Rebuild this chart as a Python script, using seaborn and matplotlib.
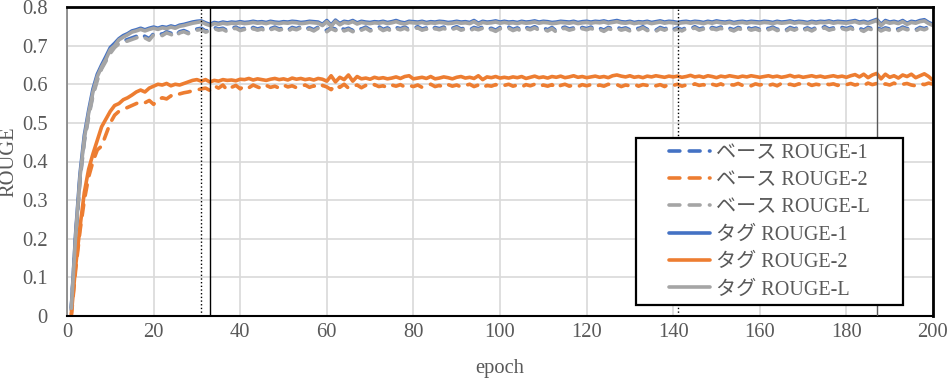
import numpy as np
import pandas as pd
import matplotlib
matplotlib.use("Agg")
import matplotlib.pyplot as plt
from matplotlib.patches import Rectangle
import seaborn as sns

# ROUGE scores per epoch (x1000), epochs 1..200
epochs = np.arange(1, 201)

base_1 = [
    17, 205, 356, 456, 520, 575, 615, 644, 664, 684, 699, 709, 712, 716, 720, 724, 730, 724, 718, 731,
    734, 729, 736, 732, 725, 736, 739, 734, 741, 743, 745, 738, 741, 747, 743, 745, 739, 745, 748, 742,
    745, 740, 747, 743, 746, 739, 744, 748, 743, 746, 740, 747, 744, 749, 743, 746, 741, 748, 744, 739,
    747, 742, 750, 741, 745, 739, 747, 743, 748, 741, 745, 749, 742, 746, 740, 747, 744, 748, 742, 745,
    749, 743, 746, 740, 747, 744, 748, 741, 745, 749, 743, 746, 741, 747, 744, 748, 742, 745, 740, 747,
    744, 748, 742, 746, 740, 747, 744, 749, 743, 746, 741, 747, 738, 745, 748, 743, 746, 741, 747, 744,
    748, 742, 745, 740, 747, 744, 748, 743, 746, 741, 747, 744, 749, 742, 745, 740, 747, 743, 748, 742,
    746, 741, 747, 744, 749, 743, 746, 740, 747, 744, 748, 742, 745, 741, 747, 744, 748, 743, 746, 742,
    747, 744, 748, 742, 745, 740, 747, 743, 748, 742, 746, 741, 747, 744, 749, 743, 746, 742, 747, 744,
    748, 742, 745, 740, 747, 744, 749, 741, 746, 743, 747, 742, 748, 744, 746, 741, 747, 744, 749, 745,
]
base_2 = [
    0, 120, 220, 300, 360, 400, 430, 440, 470, 500, 520, 530, 535, 540, 545, 550, 555, 552, 558, 548,
    560, 565, 562, 570, 568, 575, 578, 580, 583, 585, 588, 590, 584, 596, 590, 598, 585, 592, 597, 588,
    596, 591, 598, 593, 589, 597, 592, 595, 590, 598, 593, 596, 591, 594, 598, 592, 596, 590, 597, 593,
    586, 598, 592, 600, 590, 595, 598, 591, 597, 593, 599, 594, 596, 591, 598, 595, 599, 593, 597, 594,
    598, 592, 596, 600, 594, 597, 592, 599, 595, 598, 593, 597, 600, 594, 598, 591, 597, 595, 599, 594,
    597, 600, 595, 598, 593, 599, 596, 600, 594, 598, 595, 599, 590, 597, 600, 595, 598, 594, 599, 596,
    599, 594, 598, 595, 600, 597, 599, 594, 598, 596, 600, 595, 599, 597, 601, 596, 599, 594, 600, 597,
    600, 595, 598, 596, 601, 597, 599, 594, 600, 597, 601, 596, 599, 598, 602, 597, 600, 596, 601, 598,
    601, 597, 600, 596, 602, 598, 600, 597, 601, 599, 602, 597, 600, 598, 602, 599, 601, 597, 602, 599,
    602, 598, 601, 597, 603, 599, 602, 596, 601, 598, 603, 597, 600, 602, 598, 596, 602, 599, 603, 600,
]
base_L = [
    15, 200, 350, 450, 515, 570, 610, 640, 660, 680, 695, 705, 708, 712, 716, 720, 726, 720, 714, 728,
    731, 726, 733, 729, 722, 733, 736, 731, 738, 740, 742, 735, 738, 744, 740, 742, 736, 742, 745, 739,
    742, 737, 744, 740, 743, 736, 741, 745, 740, 743, 737, 744, 741, 746, 740, 743, 738, 745, 741, 736,
    744, 739, 747, 738, 742, 736, 744, 740, 745, 738, 742, 746, 739, 743, 737, 744, 741, 745, 739, 742,
    746, 740, 743, 737, 744, 741, 745, 738, 742, 746, 740, 743, 738, 744, 741, 745, 739, 742, 737, 744,
    741, 745, 739, 743, 737, 744, 741, 746, 740, 743, 738, 744, 735, 742, 745, 740, 743, 738, 744, 741,
    745, 739, 742, 737, 744, 741, 745, 740, 743, 738, 744, 741, 746, 739, 742, 737, 744, 740, 745, 739,
    743, 738, 744, 741, 746, 740, 743, 737, 744, 741, 745, 739, 742, 738, 744, 741, 745, 740, 743, 739,
    744, 741, 745, 739, 742, 737, 744, 740, 745, 739, 743, 738, 744, 741, 746, 740, 743, 739, 744, 741,
    745, 739, 742, 737, 744, 741, 746, 738, 743, 740, 744, 739, 745, 741, 743, 738, 744, 741, 746, 742,
]
tag_1 = [
    22, 215, 368, 468, 532, 588, 626, 650, 672, 695, 706, 718, 726, 731, 738, 741, 745, 741, 745, 748,
    745, 749, 747, 751, 748, 753, 755, 758, 761, 763, 764, 759, 755, 760, 758, 761, 759, 761, 760, 762,
    760, 761, 763, 761, 762, 760, 763, 761, 760, 762, 761, 763, 762, 760, 761, 763, 762, 761, 755, 765,
    753, 766, 757, 763, 761, 765, 759, 763, 761, 760, 762, 761, 763, 760, 762, 765, 761, 759, 763, 762,
    761, 763, 760, 762, 761, 763, 762, 760, 761, 763, 761, 762, 760, 765, 758, 763, 761, 762, 764, 761,
    763, 761, 762, 760, 763, 761, 762, 764, 761, 763, 762, 760, 761, 763, 762, 761, 763, 760, 762, 763,
    761, 763, 762, 764, 761, 763, 765, 762, 761, 763, 760, 762, 761, 763, 760, 762, 764, 761, 763, 762,
    760, 762, 763, 761, 763, 762, 760, 763, 761, 764, 762, 761, 763, 760, 762, 763, 761, 763, 762, 761,
    763, 762, 760, 763, 761, 762, 764, 761, 763, 762, 760, 763, 761, 763, 762, 764, 761, 763, 762, 761,
    763, 765, 761, 763, 760, 764, 768, 755, 765, 761, 763, 760, 765, 758, 763, 761, 765, 767, 760, 755,
]
tag_2 = [
    5, 130, 230, 320, 380, 420, 455, 490, 510, 530, 545, 550, 560, 565, 572, 580, 585, 580, 590, 595,
    600, 598, 602, 596, 600, 598, 602, 606, 610, 612, 608, 612, 606, 610, 608, 612, 610, 611, 609, 613,
    612, 615, 611, 614, 612, 610, 613, 615, 612, 614, 611, 616, 613, 615, 612, 614, 611, 615, 613, 608,
    622, 606, 618, 612, 624, 608, 620, 614, 616, 613, 618, 615, 617, 614, 616, 619, 615, 620, 622, 614,
    616, 618, 615, 620, 614, 616, 619, 617, 614, 618, 620, 616, 618, 615, 622, 612, 619, 617, 620, 616,
    618, 616, 619, 617, 620, 615, 618, 621, 617, 619, 616, 620, 618, 621, 617, 619, 622, 618, 620, 617,
    619, 621, 618, 620, 617, 622, 624, 621, 619, 622, 618, 620, 617, 621, 619, 622, 620, 618, 621, 619,
    621, 618, 620, 623, 619, 621, 618, 622, 620, 617, 621, 619, 622, 620, 618, 621, 619, 622, 620, 618,
    620, 622, 619, 621, 618, 620, 623, 619, 621, 618, 620, 622, 619, 621, 618, 620, 622, 619, 621, 618,
    622, 625, 619, 626, 617, 624, 628, 614, 626, 618, 622, 616, 624, 620, 626, 617, 622, 627, 620, 610,
]
tag_L = [
    20, 210, 360, 460, 525, 580, 620, 645, 665, 690, 700, 715, 722, 728, 735, 738, 742, 738, 742, 745,
    742, 746, 744, 748, 745, 750, 752, 755, 758, 760, 762, 756, 752, 757, 755, 758, 756, 758, 757, 759,
    757, 758, 760, 758, 759, 757, 760, 758, 757, 759, 758, 760, 759, 757, 758, 760, 759, 758, 752, 762,
    750, 763, 754, 760, 758, 762, 756, 760, 758, 757, 759, 758, 760, 757, 759, 762, 758, 756, 760, 759,
    758, 760, 757, 759, 758, 760, 759, 757, 758, 760, 758, 759, 757, 762, 755, 760, 758, 759, 761, 758,
    760, 758, 759, 757, 760, 758, 759, 761, 758, 760, 759, 757, 758, 760, 759, 758, 760, 757, 759, 760,
    758, 760, 759, 761, 758, 760, 762, 759, 758, 760, 757, 759, 758, 760, 757, 759, 761, 758, 760, 759,
    757, 759, 760, 758, 760, 759, 757, 760, 758, 761, 759, 758, 760, 757, 759, 760, 758, 760, 759, 758,
    760, 759, 757, 760, 758, 759, 761, 758, 760, 759, 757, 760, 758, 760, 759, 761, 758, 760, 759, 758,
    760, 762, 758, 760, 757, 761, 765, 752, 762, 758, 760, 757, 762, 755, 760, 758, 762, 764, 757, 752,
]

series_names = ["ベース ROUGE-1", "ベース ROUGE-2", "ベース ROUGE-L",
                "タグ ROUGE-1", "タグ ROUGE-2", "タグ ROUGE-L"]
series_values = [base_1, base_2, base_L, tag_1, tag_2, tag_L]
series_colors = ["#4472C4", "#ED7D31", "#A5A5A5", "#4472C4", "#ED7D31", "#A5A5A5"]
series_dashed = [True, True, True, False, False, False]

# reference epoch markers: (epoch, style, color)
markers = [(31, ":", "black"), (33, "-", "black"), (141, ":", "black"), (187, "-", "#595959")]

x_ticks = list(range(0, 201, 20))
y_ticks = [0, 0.1, 0.2, 0.3, 0.4, 0.5, 0.6, 0.7, 0.8]
y_tick_labels = ["0", "0.1", "0.2", "0.3", "0.4", "0.5", "0.6", "0.7", "0.8"]

sns.set_style("white")
plt.rcParams["font.family"] = ["Liberation Serif", "Noto Sans CJK JP"]
text_color = "#595959"
fs = 14.8

fig = plt.figure(figsize=(9.51, 3.81), dpi=100)
ax = fig.add_axes([67 / 951, 1 - 316 / 381, 866 / 951, 309 / 381])

for name, vals, color, dashed in zip(series_names, series_values, series_colors, series_dashed):
    df = pd.DataFrame({"epoch": epochs, "rouge": np.array(vals) / 1000})
    sns.lineplot(data=df, x="epoch", y="rouge", ax=ax, color=color, linewidth=2.6,
                 label=name, linestyle=(0, (3.0, 2.6)) if dashed else "-",
                 dash_capstyle="round", solid_capstyle="round", legend=False)

for ep, ls, col in markers:
    ax.axvline(ep, color=col, linestyle=ls, linewidth=1.0, zorder=3)

ax.set_xlim(0, 200)
ax.set_ylim(0, 0.8)
ax.set_xticks(x_ticks)
ax.set_yticks(y_ticks)
ax.set_yticklabels(y_tick_labels)
ax.grid(True, color="#D9D9D9", linewidth=1.2)
ax.set_axisbelow(True)
ax.tick_params(axis="both", length=0, labelsize=fs, colors=text_color)
ax.tick_params(axis="y", pad=14)
ax.tick_params(axis="x", pad=5)
ax.set_xlabel("epoch", fontsize=fs, color=text_color, labelpad=12)
ax.set_ylabel("ROUGE", fontsize=fs, color=text_color)
ax.yaxis.set_label_coords(-49 / 866, 0.5)

for side in ["top", "right", "bottom"]:
    ax.spines[side].set_color("black")
    ax.spines[side].set_linewidth(2 if side != "bottom" else 1.5)
ax.spines["left"].set_color("#808080")
ax.spines["left"].set_linewidth(1.2)

# legend box
box = (0.657, 0.0356, 0.308, 0.540)
ax.add_patch(Rectangle(box[:2], box[2], box[3], transform=ax.transAxes,
                       facecolor="white", edgecolor="black", linewidth=1.6, zorder=10))
handles, labels = ax.get_legend_handles_labels()
leg = ax.legend(handles, labels, loc="center", bbox_to_anchor=box, frameon=False,
                fontsize=14.5, handlelength=2.0, handletextpad=0.3, labelspacing=0.41,
                borderpad=0.2)
leg.set_zorder(11)
for t in leg.get_texts():
    t.set_color(text_color)

fig.savefig("out.png", dpi=100)
